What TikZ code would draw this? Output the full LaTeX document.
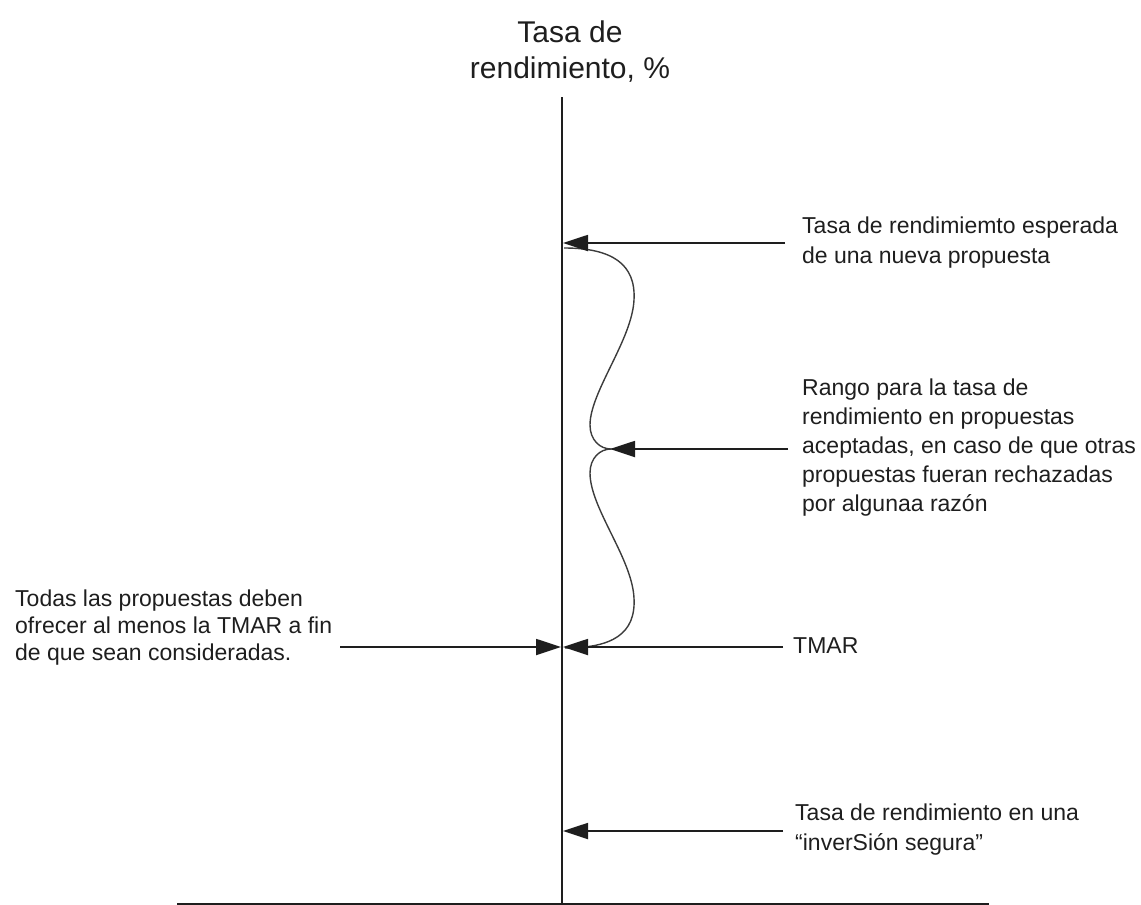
\documentclass[tikz,border=0pt]{standalone}
\usepackage{fontspec}
\setmainfont{Liberation Sans}
\usetikzlibrary{arrows.meta}
\definecolor{ink}{RGB}{30,30,30}
\definecolor{curvegray}{RGB}{60,60,60}
\tikzset{
  axisline/.style={draw=ink, line width=1.8pt},
  pointer/.style={draw=ink, line width=1.8pt, -{Triangle[length=25pt,width=16pt]}},
  bracecurve/.style={draw=curvegray, line width=1.4pt},
  lbl/.style={inner sep=0pt, anchor=base west, text=ink,
    font=\fontsize{23}{30}\selectfont},
  lbltight/.style={lbl, font=\fontsize{23}{27}\selectfont},
  ttl/.style={inner sep=0pt, anchor=base, text=ink,
    font=\fontsize{30}{36}\selectfont}
}
\newcommand{\lines}[1]{\begin{tabular}[t]{@{}l@{}}#1\end{tabular}}
\begin{document}
\begin{tikzpicture}[x=1pt,y=-1pt]
  \useasboundingbox (0,0) rectangle (1141,905);

  % axes
  \coordinate (axTop) at (562,97);
  \coordinate (axBot) at (562,904);
  \coordinate (baseL) at (177,904);
  \coordinate (baseR) at (989,904);
  \draw[axisline] (axTop) -- (axBot);
  \draw[axisline] (baseL) -- (baseR);

  % vertical axis title
  \node[ttl] (title) at (570,42)
    {\begin{tabular}[t]{@{}c@{}}Tasa de\\rendimiento, \%\end{tabular}};

  % arrow endpoints
  \coordinate (expFrom) at (785,243);
  \coordinate (expTip)  at (563,243);
  \coordinate (rngFrom) at (788,449);
  \coordinate (rngTip)  at (610,449);
  \coordinate (tmarFrom) at (783,647);
  \coordinate (tmarTip)  at (563,647);
  \coordinate (allFrom) at (340,647);
  \coordinate (allTip)  at (561,647);
  \coordinate (safeFrom) at (783,831);
  \coordinate (safeTip)  at (563,831);

  % brace between the TMAR and the expected rate
  \coordinate (b0) at (564,248);
  \coordinate (b1) at (634,300);
  \coordinate (b2) at (590,425);
  \coordinate (b3) at (611,449);
  \coordinate (b4) at (590,473);
  \coordinate (b5) at (634,598);
  \coordinate (b6) at (565,648);
  \draw[bracecurve]
    (b0) .. controls (612,248) and (636,264) .. (b1)
         .. controls (632,340) and (590,392) .. (b2)
         .. controls (590,440) and (600,449) .. (b3)
         .. controls (600,449) and (590,458) .. (b4)
         .. controls (590,508) and (632,558) .. (b5)
         .. controls (636,634) and (612,648) .. (b6);

  % pointers
  \draw[pointer] (expFrom) -- (expTip);
  \draw[pointer] (rngFrom) -- (rngTip);
  \draw[pointer] (tmarFrom) -- (tmarTip);
  \draw[pointer] (allFrom) -- (allTip);
  \draw[pointer] (safeFrom) -- (safeTip);

  % labels
  \node[lbl] (expected) at (802,233)
    {\lines{Tasa de rendimiemto esperada\\de una nueva propuesta}};
  \node[lbl, font=\fontsize{23}{29}\selectfont] (range) at (802,395)
    {\lines{Rango para la tasa de\\rendimiento en propuestas\\aceptadas, en caso de que otras\\propuestas fueran rechazadas\\por algunaa razón}};
  \node[lbl] (tmar) at (793,653) {TMAR};
  \node[lbltight] (all) at (15,606)
    {\lines{Todas las propuestas deben\\ofrecer al menos la TMAR a fin\\de que sean consideradas.}};
  \node[lbl] (safe) at (795,820)
    {\lines{Tasa de rendimiento en una\\“inverSión segura”}};
\end{tikzpicture}
\end{document}
